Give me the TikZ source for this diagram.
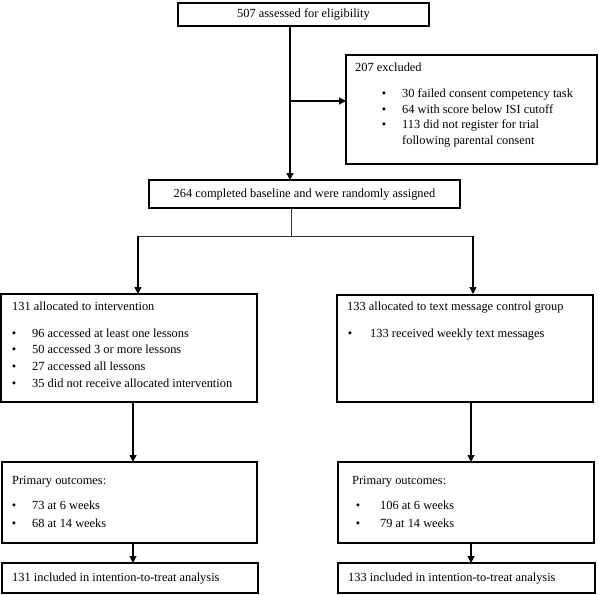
\documentclass[tikz,border=0pt]{standalone}
\usepackage{fontspec}
\setmainfont{Liberation Serif}
\usetikzlibrary{arrows.meta}
\begin{document}
\begin{tikzpicture}[x=1pt,y=-1pt,
  box/.style={draw=black,line width=1.3pt},
  conn/.style={line width=1.3pt,-{Triangle[length=7pt,width=7pt]}},
  thin/.style={line width=0.9pt,draw=black!80},
  txt/.style={inner sep=0pt,anchor=west,font=\fontsize{12.4}{14}\selectfont,text height=8.6pt,text depth=2.6pt},
  ctxt/.style={txt,anchor=center},
  bul/.style={inner sep=0pt,anchor=center,font=\fontsize{12.4}{14}\selectfont,text height=8.6pt,text depth=2.6pt}]
\useasboundingbox (0,0) rectangle (599,594);
\fill[white] (0,0) rectangle (599,594);
% boxes
\draw[box] (178,3) rectangle (429,26);
\node[ctxt] (tA) at (303.5,14.5) {507 assessed for eligibility};
\coordinate (aTop) at (290,26);
\coordinate (aMid) at (290,101);
\coordinate (cTop) at (290,180);

\draw[box] (346,55) rectangle (597,164);
\coordinate (bLeft) at (346,101);
\node[txt] (tB) at (355,68) {207 excluded};
\node[bul] (b1) at (384,94.5) {\textbullet};
\node[txt] (tB1) at (402,94.5) {30 failed consent competency task};
\node[bul] (b2) at (384,110) {\textbullet};
\node[txt] (tB2) at (402,110) {64 with score below ISI cutoff};
\node[bul] (b3) at (384,125.5) {\textbullet};
\node[txt] (tB3) at (402,125.5) {113 did not register for trial};
\node[txt] (tB4) at (402,141) {following parental consent};

\draw[box] (149,180) rectangle (460,208);
\node[ctxt] (tC) at (304.5,194) {264 completed baseline and were randomly assigned};
\coordinate (cBot) at (291,208);
\coordinate (cJoin) at (291,236);
\coordinate (lJoin) at (138,236);
\coordinate (rJoin) at (473,236);
\coordinate (dTop) at (138,294);
\coordinate (eTop) at (473,294);

\draw[box] (1,294) rectangle (257,402);
\node[txt] (tD) at (12,307) {131 allocated to intervention};
\node[bul] (d1) at (14,334) {\textbullet};
\node[txt] (tD1) at (32,334) {96 accessed at least one lessons};
\node[bul] (d2) at (14,350.7) {\textbullet};
\node[txt] (tD2) at (32,350.7) {50 accessed 3 or more lessons};
\node[bul] (d3) at (14,367.4) {\textbullet};
\node[txt] (tD3) at (32,367.4) {27 accessed all lessons};
\node[bul] (d4) at (14,384) {\textbullet};
\node[txt] (tD4) at (32,384) {35 did not receive allocated intervention};

\draw[box] (337,295) rectangle (593,402);
\node[txt] (tE) at (347,307) {133 allocated to text message control group};
\node[bul] (e1) at (350,334) {\textbullet};
\node[txt] (tE1) at (370,334) {133 received weekly text messages};

\draw[box] (2,462) rectangle (257,543);
\node[txt] (tF) at (12,481) {Primary outcomes:};
\node[bul] (f1) at (14,506) {\textbullet};
\node[txt] (tF1) at (32,506) {73 at 6 weeks};
\node[bul] (f2) at (14,524) {\textbullet};
\node[txt] (tF2) at (32,524) {68 at 14 weeks};

\draw[box] (338,462) rectangle (594,543);
\node[txt] (tG) at (352,481) {Primary outcomes:};
\node[bul] (g1) at (358,506) {\textbullet};
\node[txt] (tG1) at (380,506) {106 at 6 weeks};
\node[bul] (g2) at (358,524) {\textbullet};
\node[txt] (tG2) at (380,524) {79 at 14 weeks};

\draw[box] (2,563) rectangle (258,593);
\node[txt] (tH) at (12,578) {131 included in intention-to-treat analysis};
\draw[box] (338,563) rectangle (595,593);
\node[txt] (tI) at (348,578) {133 included in intention-to-treat analysis};

% connectors
\draw[conn] (aTop) -- (cTop);
\draw[conn] (aMid) -- (bLeft);
\draw[thin] (cBot) -- (cJoin);
\draw[thin] (lJoin) -- (rJoin);
\draw[conn] (lJoin) -- (dTop);
\draw[conn] (rJoin) -- (eTop);
\coordinate (dBot) at (133,402);
\coordinate (fTop) at (133,462);
\coordinate (eBot) at (471,402);
\coordinate (gTop) at (471,462);
\coordinate (fBot) at (133,543);
\coordinate (hTop) at (133,563);
\coordinate (gBot) at (471,543);
\coordinate (iTop) at (471,563);
\draw[conn] (dBot) -- (fTop);
\draw[conn] (eBot) -- (gTop);
\draw[conn] (fBot) -- (hTop);
\draw[conn] (gBot) -- (iTop);
\end{tikzpicture}
\end{document}
